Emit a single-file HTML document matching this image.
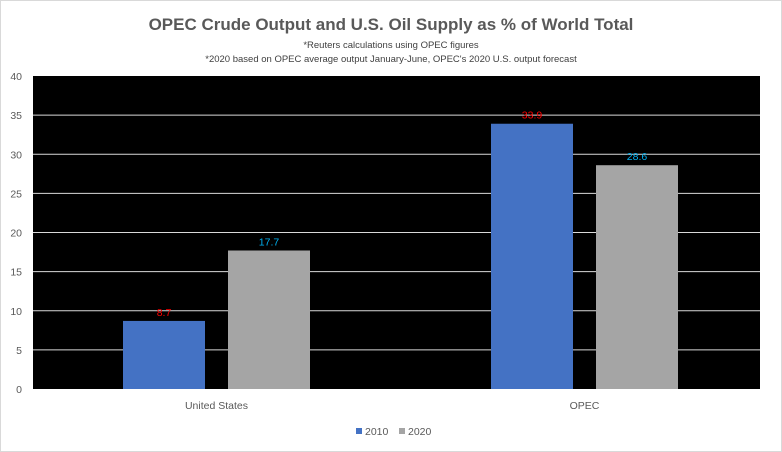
<!DOCTYPE html>
<html><head><meta charset="utf-8"><style>
body{margin:0;background:#fff;}
svg{display:block;font-family:"Liberation Sans",sans-serif;}
</style></head><body>
<svg id="c" width="782" height="452">
<rect x="0.5" y="0.5" width="781" height="451" fill="#fff" stroke="#d9d9d9"/>
<text x="391" y="30" text-anchor="middle" font-size="17" font-weight="bold" fill="#595959">OPEC Crude Output and U.S. Oil Supply as % of World Total</text>
<text x="391" y="48" text-anchor="middle" font-size="9.5" fill="#404040">*Reuters calculations using OPEC figures</text>
<text x="391" y="62" text-anchor="middle" font-size="9.5" fill="#404040">*2020 based on OPEC average output January-June, OPEC's 2020 U.S. output forecast</text>
<rect x="33" y="76" width="727" height="313" fill="#000"/>
<g id="grid"></g><g id="bars"></g><g id="labels"></g>
<g>
<rect x="356" y="428" width="6" height="6" fill="#4472c4"/>
<text x="365" y="435" font-size="10.5" fill="#595959">2010</text>
<rect x="399" y="428" width="6" height="6" fill="#a5a5a5"/>
<text x="408" y="435" font-size="10.5" fill="#595959">2020</text>
</g>
</svg>
<script>
const categories=["United States","OPEC"];
const series2010=[8.7,33.9];
const series2020=[17.7,28.6];
const yTicks=[0,5,10,15,20,25,30,35,40];
const NS="http://www.w3.org/2000/svg";
const L=33,R=760,T=76,B=389,yMax=40;
const bandL=32.5,bandW=368;
const y=v=>B-(v/yMax)*(B-T);
const bw=82,gap=23;
function mk(tag,attrs,parent,txt){const e=document.createElementNS(NS,tag);for(const k in attrs)e.setAttribute(k,attrs[k]);if(txt!==undefined)e.textContent=txt;document.getElementById(parent).appendChild(e);return e;}
yTicks.forEach(t=>{
  if(t>0&&t<yMax){const g=mk('line',{x1:L,x2:R,y1:y(t),y2:y(t),stroke:'#d9d9d9','stroke-width':1},'grid');
  
  }
  const tl=mk('text',{x:22,y:y(t)+4,'text-anchor':'end','font-size':'10.5',fill:'#595959'},'grid',t);
  
  
});
categories.forEach((c,i)=>{
  const cx=bandL+bandW*(i+0.5);
  const x1=cx-gap/2-bw, x2=cx+gap/2;
  const b1=mk('rect',{x:x1,y:y(series2010[i]),width:bw,height:B-y(series2010[i]),fill:'#4472c4'},'bars');
  
  
  const b2=mk('rect',{x:x2,y:y(series2020[i]),width:bw,height:B-y(series2020[i]),fill:'#a5a5a5'},'bars');
  
  
  const l1=mk('text',{x:x1+bw/2,y:y(series2010[i])-5,'text-anchor':'middle','font-size':'10.5',fill:'#ff0000'},'labels',series2010[i]);
  
  
  const l2=mk('text',{x:x2+bw/2,y:y(series2020[i])-5,'text-anchor':'middle','font-size':'10.5',fill:'#00b0f0'},'labels',series2020[i]);
  
  
  const cl=mk('text',{x:cx,y:409,'text-anchor':'middle','font-size':'10.5',fill:'#595959'},'labels',c);
  
  
});
</script>
</body></html>
